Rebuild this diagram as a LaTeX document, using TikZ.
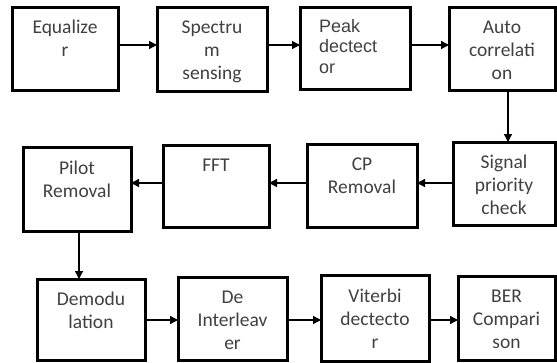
\documentclass[tikz,border=0pt]{standalone}
\usepackage{fontspec}
\setmainfont{Carlito}
\newfontfamily\peakfont{Liberation Sans}
\usetikzlibrary{arrows.meta}

\tikzset{
    blk/.style={draw, line width=3pt, inner sep=0pt, outer sep=0pt, anchor=north west,
        text width=108pt, align=center, text height=26pt, text depth=57pt,
        font=\fontsize{19.5}{23}\selectfont, text=black!75},
    arr/.style={line width=1.3pt, -{Triangle[length=8pt,width=8pt]}}
}

\begin{document}
\begin{tikzpicture}[x=1pt,y=-1pt]
    \useasboundingbox (0,0) rectangle (557,362);

    % first row
    \node[blk, text width=106pt] (eq) at (12,7) {Equalize\\r};
    \node[blk, text width=110pt, text depth=58pt] (spec) at (157,7) {Spectru\\m\\sensing};
    \node[blk, text width=72pt, inner xsep=19pt, align=left, text height=25pt,
        font=\peakfont\fontsize{18}{20.5}\selectfont] (peak) at (300,7) {Peak\\dectect\\or};
    \node[blk, text width=106pt] (auto) at (449,7) {Auto\\correlati\\on};

    % second row
    \node[blk, text width=102pt] (sig) at (453,142) {Signal\\priority\\check};
    \node[blk, text width=110pt] (cp) at (307,144) {CP\\Removal};
    \node[blk, text width=106pt, text depth=56pt] (fft) at (163,145) {FFT};
    \node[blk, text height=27pt] (pilot) at (23,147) {Pilot\\Removal};

    % third row
    \node[blk, text depth=55pt] (demod) at (37,279) {Demodu\\lation};
    \node[blk, text width=109pt] (deint) at (178,277) {De\\Interleav\\er};
    \node[blk, text depth=59pt, text height=27pt] (vit) at (321,275) {Viterbi\\dectecto\\r};
    \node[blk, text width=97pt, text depth=58pt] (ber) at (458,276) {BER\\Compari\\son};

    \draw[arr] (eq.east |- 0,45) -- (spec.west |- 0,45);
    \draw[arr] (spec.east |- 0,45) -- (peak.west |- 0,45);
    \draw[arr] (peak.east |- 0,45) -- (auto.west |- 0,45);
    \draw[arr] (auto.south -| 508,0) -- (sig.north -| 508,0);
    \draw[arr] (sig.west |- 0,183) -- (cp.east |- 0,183);
    \draw[arr] (cp.west |- 0,183) -- (fft.east |- 0,183);
    \draw[arr] (fft.west |- 0,183) -- (pilot.east |- 0,183);
    \draw[arr] (pilot.south -| 79,0) -- (demod.north -| 79,0);
    \draw[arr] (demod.east |- 0,320) -- (deint.west |- 0,320);
    \draw[arr] (deint.east |- 0,320) -- (vit.west |- 0,320);
    \draw[arr] (vit.east |- 0,320) -- (ber.west |- 0,320);
\end{tikzpicture}
\end{document}
